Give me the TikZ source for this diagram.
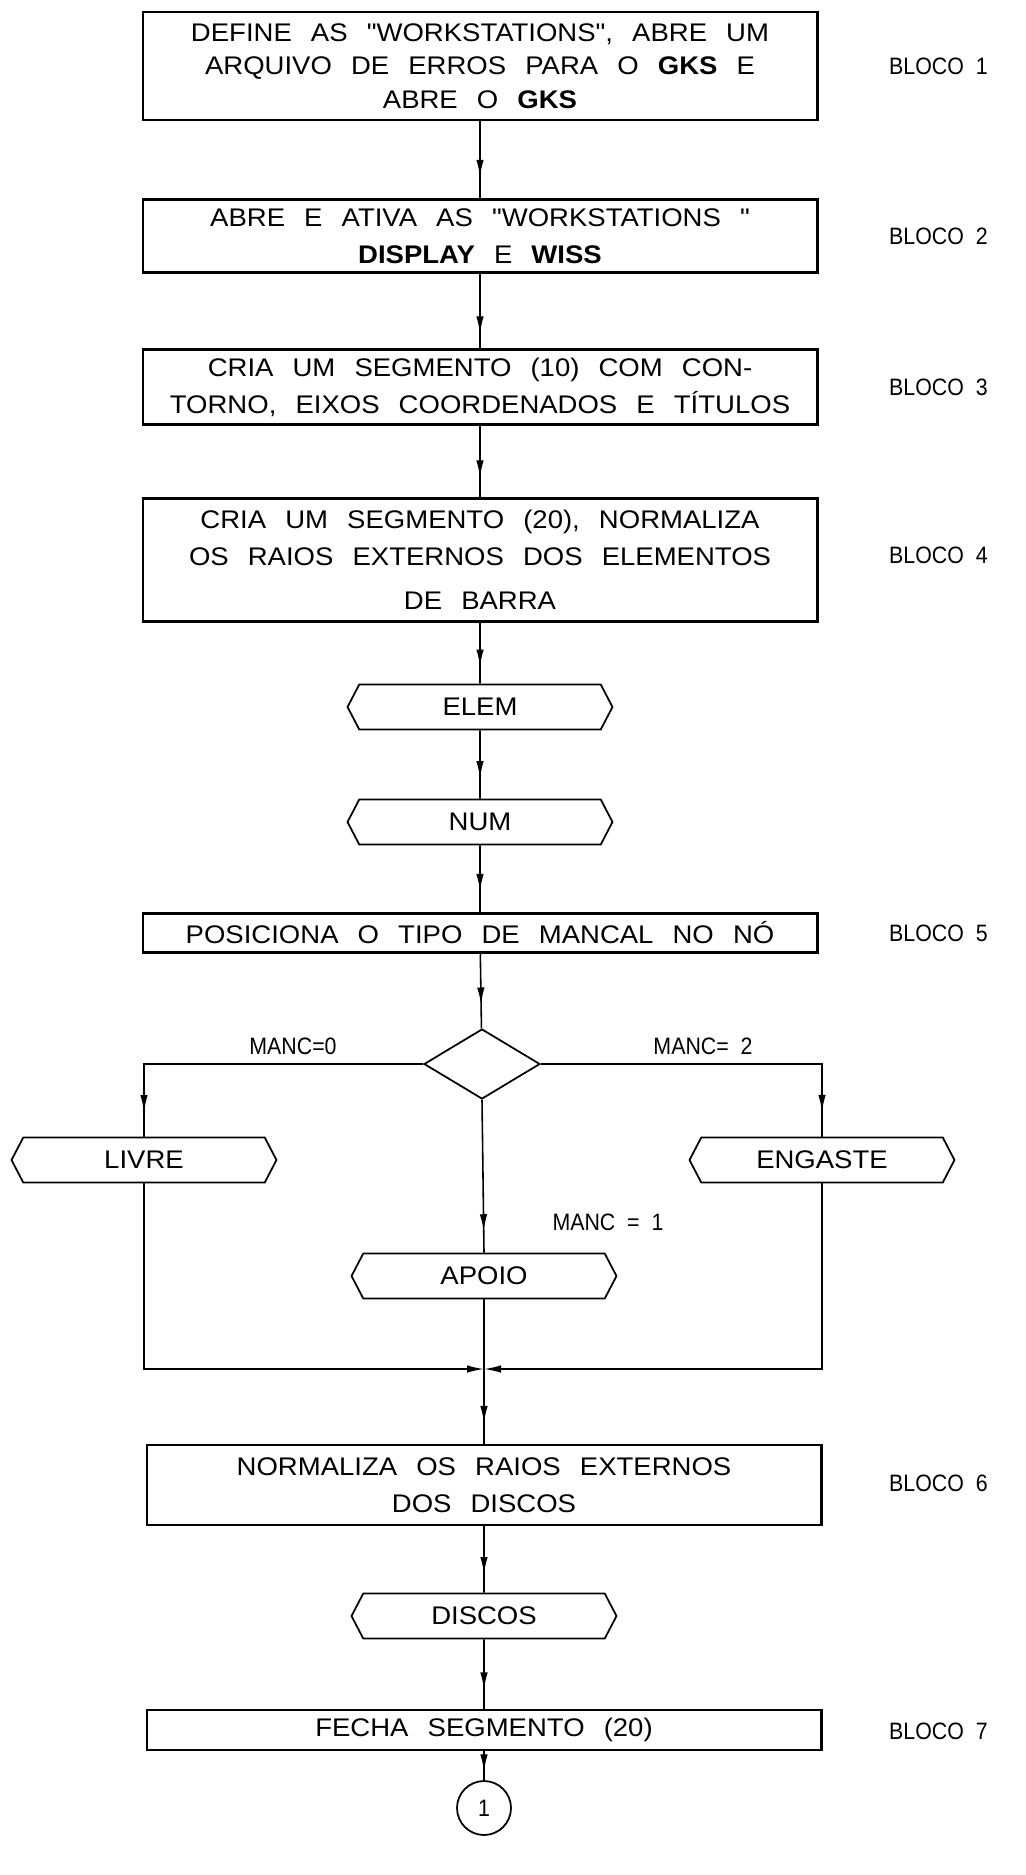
\documentclass[tikz,border=0pt]{standalone}
\usepackage{fontspec}
\setmainfont{Liberation Sans}[FakeStretch=0.9,WordSpace=2]
\newfontfamily\letra{Liberation Sans}[FakeStretch=1.08,WordSpace=2.5,Ligatures=TeXOff]
\usetikzlibrary{arrows.meta,shapes.geometric,shapes.symbols,decorations.markings}

\tikzset{
  bloco/.style={draw,line width=1.2pt,minimum width=13.5cm,align=center,inner sep=2pt,
    font=\letra\fontsize{14.5}{21}\selectfont},
  leitura/.style={draw,line width=1pt,signal,signal to=east and west,signal pointer angle=125,
    minimum width=5.3cm,minimum height=0.9cm,inner sep=1pt,font=\letra\fontsize{14.5}{21}\selectfont},
  decisao/.style={draw,line width=1pt,diamond,aspect=1.66,minimum width=2.32cm,
    minimum height=1.4cm,inner sep=0pt},
  conector/.style={draw,line width=1pt,circle,minimum size=1.08cm,inner sep=0pt},
  nome/.style={anchor=west},
  fluxo/.style={line width=0.9pt,decoration={markings,
      mark=at position #1 with {\arrow{Latex[length=3.4mm,width=1.5mm]}}},
    postaction={decorate}},
  fluxo/.default=0.7,
}

\begin{document}
\begin{tikzpicture}[x=0.02cm,y=-0.02cm,font=\fontsize{13.5}{20}\selectfont]
  \useasboundingbox (0,0) rectangle (1025,1875);
  % blocos da coluna principal
  \node[bloco,minimum height=2.16cm] (b1) at (480,66)
    {DEFINE AS "WORKSTATIONS", ABRE UM\\[-2pt]ARQUIVO DE ERROS PARA O \textbf{GKS} E\\[-2pt]ABRE O \textbf{GKS}};
  \node[bloco,minimum height=1.46cm] (b2) at (480,236)
    {ABRE E ATIVA AS "WORKSTATIONS "\\\textbf{DISPLAY} E \textbf{WISS}};
  \node[bloco,minimum height=1.5cm] (b3) at (480,387)
    {CRIA UM SEGMENTO (10) COM CON-\\TORNO, EIXOS COORDENADOS E TÍTULOS};
  \node[bloco,minimum height=2.46cm] (b4) at (480,560)
    {CRIA UM SEGMENTO (20), NORMALIZA\\OS RAIOS EXTERNOS DOS ELEMENTOS\\[4pt]DE BARRA};
  \node[leitura] (elem) at (480,707) {ELEM};
  \node[leitura] (num) at (480,822) {NUM};
  \node[bloco,minimum height=0.78cm] (b5) at (480,933) {POSICIONA O TIPO DE MANCAL NO NÓ};
  \node[decisao] (manc) at (482,1064) {};
  \node[leitura] (livre) at (144,1160) {LIVRE};
  \node[leitura] (engaste) at (822,1160) {ENGASTE};
  \node[leitura] (apoio) at (484,1276) {APOIO};
  \coordinate (junta) at (484,1369);
  \node[bloco,minimum height=1.6cm] (b6) at (484,1485)
    {NORMALIZA OS RAIOS EXTERNOS\\DOS DISCOS};
  \node[leitura] (discos) at (484,1616) {DISCOS};
  \node[bloco,minimum height=0.8cm] (b7) at (484,1730) {FECHA SEGMENTO (20)};
  \node[conector] (um) at (484,1808) {1};

  % rotulos dos blocos
  \node[nome] at (883,66) {BLOCO 1};
  \node[nome] at (883,236) {BLOCO 2};
  \node[nome] at (883,387) {BLOCO 3};
  \node[nome] at (883,555) {BLOCO 4};
  \node[nome] at (883,933) {BLOCO 5};
  \node[nome] at (883,1483) {BLOCO 6};
  \node[nome] at (883,1731) {BLOCO 7};
  \node at (293,1046) {MANC=0};
  \node at (703,1046) {MANC= 2};
  \node at (608,1222) {MANC = 1};

  % ligacoes
  \draw[fluxo=0.72] (b1) -- (b2);
  \draw[fluxo=0.8] (b2) -- (b3);
  \draw[fluxo=0.72] (b3) -- (b4);
  \draw[fluxo=0.72] (b4) -- (elem);
  \draw[fluxo=0.7] (elem) -- (num);
  \draw[fluxo=0.68] (num) -- (b5);
  \draw[fluxo=0.68] (b5) -- (manc);
  \draw[fluxo=0.93] (manc.west) -| (livre.north);
  \draw[fluxo=0.93] (manc.east) -| (engaste.north);
  \draw[fluxo=0.86] (manc.south) -- (apoio.north);
  \draw[line width=0.9pt,-{Latex[length=3.4mm,width=1.5mm]}] (livre.south) |- (junta);
  \draw[line width=0.9pt,-{Latex[length=3.4mm,width=1.5mm]}] (engaste.south) |- (junta);
  \draw[line width=0.9pt] (apoio.south) -- (junta);
  \draw[fluxo=0.72] (junta) -- (b6.north);
  \draw[fluxo=0.72] (b6) -- (discos);
  \draw[fluxo=0.72] (discos) -- (b7);
  \draw[fluxo=0.7] (b7) -- (um);
\end{tikzpicture}
\end{document}
